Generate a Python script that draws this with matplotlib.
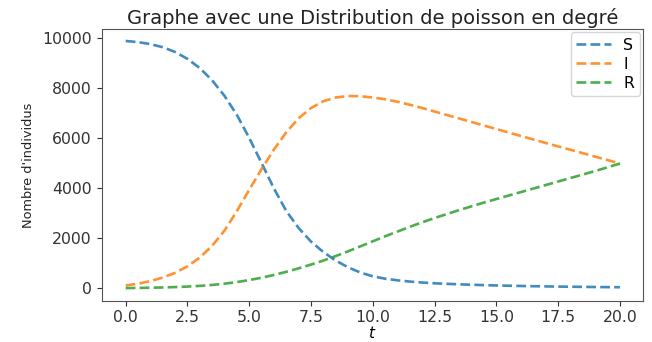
import matplotlib
matplotlib.use("Agg")
import matplotlib.pyplot as plt
from matplotlib import font_manager
import numpy as np

# Temps (pas de 0.5)
t = np.arange(0, 20.5, 0.5)

# Sains
S = [9880, 9835, 9755, 9630, 9440, 9165, 8795, 8305, 7685, 6925,
     6000, 5000, 3980, 3080, 2400, 1860, 1440, 1100, 830, 620,
     470, 375, 310, 260, 222, 192, 169, 150, 133, 118,
     105, 94, 84, 75, 67, 60, 54, 48, 43, 38, 34]

# Infectés
I = [105, 175, 280, 420, 610, 870, 1220, 1690, 2300, 3080,
     3930, 4760, 5540, 6230, 6790, 7200, 7470, 7620, 7680, 7670,
     7620, 7550, 7450, 7330, 7200, 7060, 6920, 6780, 6640, 6500,
     6360, 6220, 6080, 5940, 5800, 5665, 5530, 5395, 5255, 5120, 4980]

# Retirés
R = [0, 6, 14, 25, 40, 60, 88, 125, 175, 240,
     320, 415, 525, 650, 790, 940, 1100, 1280, 1470, 1670,
     1870, 2070, 2260, 2450, 2630, 2800, 2960, 3120, 3270, 3420,
     3560, 3700, 3840, 3980, 4120, 4260, 4400, 4540, 4680, 4830, 4980]

# Police étroite pour l'axe vertical si disponible
names = {f.name for f in font_manager.fontManager.ttflist}
if "Liberation Sans Narrow" in names:
    ylab_font = dict(family="Liberation Sans Narrow", fontsize=12.5)
else:
    ylab_font = dict(family="DejaVu Sans", fontsize=9.3)

fig = plt.figure(figsize=(6.52, 3.42), dpi=100)
ax = fig.add_axes([0.156, 0.12, 0.83, 0.795])

ax.plot(t, S, '--', color='#1f77b4', lw=1.9, alpha=0.85, label='S')
ax.plot(t, I, '--', color='#ff7f0e', lw=1.9, alpha=0.85, label='I')
ax.plot(t, R, '--', color='#2ca02c', lw=1.9, alpha=0.85, label='R')

ax.set_xlim(-0.97, 20.93)
ax.set_ylim(-515, 10356)
ax.set_xticks([0, 2.5, 5, 7.5, 10, 12.5, 15, 17.5, 20])
ax.set_yticks([0, 2000, 4000, 6000, 8000, 10000])
ax.tick_params(labelsize=11.3, colors='#333333')
ax.tick_params(axis='x', pad=3)
for sp in ax.spines.values():
    sp.set_color('#555555')

ax.set_title("Graphe avec une Distribution de poisson en degré",
             fontsize=14, pad=4, color='#222222')
ax.set_xlabel("$t$", fontsize=11, labelpad=0)
ax.set_ylabel("Nombre d'individus", labelpad=5, color='#222222', **ylab_font)
ax.legend(loc='upper right', fontsize=11.3, labelspacing=0.25,
          borderaxespad=0.2, handlelength=2.2, borderpad=0.35)

fig.savefig("out.png", dpi=100)
